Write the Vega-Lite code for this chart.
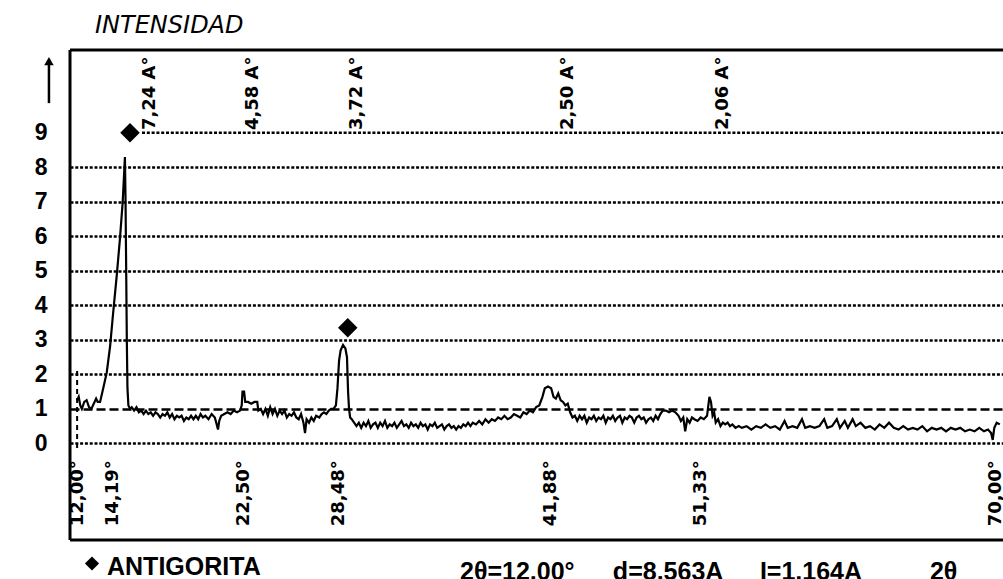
{
  "$schema": "https://vega.github.io/schema/vega-lite/v6.json",
  "width": 933,
  "height": 490,
  "autosize": {"type": "none"},
  "padding": {"left": 70, "top": 50, "right": 0, "bottom": 39},
  "background": "white",
  "config": {"view": {"stroke": null}},
  "datasets": {
    "trace": [
      {"t": 12.0, "i": 1.25}, {"t": 12.1, "i": 1.35}, {"t": 12.2, "i": 1.1}, {"t": 12.3, "i": 1.0}, {"t": 12.45, "i": 1.2}, {"t": 12.6, "i": 1.25}, {"t": 12.75, "i": 1.05}, {"t": 12.9, "i": 1.0}, {"t": 13.05, "i": 1.15}, {"t": 13.2, "i": 1.3}, {"t": 13.3, "i": 1.2}, {"t": 13.45, "i": 1.2},
      {"t": 13.65, "i": 1.6}, {"t": 13.87, "i": 2.05}, {"t": 14.08, "i": 2.8}, {"t": 14.28, "i": 3.8}, {"t": 14.5, "i": 4.85}, {"t": 14.7, "i": 5.9}, {"t": 14.88, "i": 7.0}, {"t": 15.02, "i": 8.3}, {"t": 15.06, "i": 7.0}, {"t": 15.1, "i": 5.0}, {"t": 15.14, "i": 3.0}, {"t": 15.18, "i": 1.6}, {"t": 15.24, "i": 1.1}, {"t": 15.35, "i": 1.0},
      {"t": 15.45, "i": 1.05}, {"t": 15.6, "i": 0.95}, {"t": 15.75, "i": 1.05}, {"t": 15.9, "i": 0.9}, {"t": 16.05, "i": 0.95}, {"t": 16.2, "i": 0.85}, {"t": 16.35, "i": 0.95}, {"t": 16.5, "i": 0.85}, {"t": 16.65, "i": 0.9}, {"t": 16.8, "i": 0.8}, {"t": 16.95, "i": 0.9}, {"t": 17.1, "i": 0.85}, {"t": 17.25, "i": 0.75}, {"t": 17.4, "i": 0.85}, {"t": 17.55, "i": 0.8}, {"t": 17.7, "i": 0.9}, {"t": 17.85, "i": 0.75}, {"t": 18.0, "i": 0.85}, {"t": 18.15, "i": 0.7}, {"t": 18.3, "i": 0.8}, {"t": 18.45, "i": 0.75}, {"t": 18.6, "i": 0.8}, {"t": 18.75, "i": 0.65}, {"t": 18.9, "i": 0.75}, {"t": 19.05, "i": 0.7}, {"t": 19.2, "i": 0.8}, {"t": 19.35, "i": 0.7}, {"t": 19.5, "i": 0.8}, {"t": 19.65, "i": 0.7}, {"t": 19.8, "i": 0.85}, {"t": 19.95, "i": 0.75}, {"t": 20.1, "i": 0.8}, {"t": 20.3, "i": 0.7}, {"t": 20.5, "i": 0.85}, {"t": 20.7, "i": 0.75}, {"t": 20.82, "i": 0.55}, {"t": 20.9, "i": 0.4}, {"t": 20.98, "i": 0.65}, {"t": 21.1, "i": 0.8}, {"t": 21.3, "i": 0.85}, {"t": 21.5, "i": 0.9}, {"t": 21.7, "i": 0.85}, {"t": 21.9, "i": 0.95}, {"t": 22.1, "i": 0.9}, {"t": 22.3, "i": 0.95}, {"t": 22.4, "i": 1.1},
      {"t": 22.45, "i": 1.5}, {"t": 22.55, "i": 1.5}, {"t": 22.62, "i": 1.2}, {"t": 22.8, "i": 1.2}, {"t": 23.0, "i": 1.15}, {"t": 23.2, "i": 1.2}, {"t": 23.38, "i": 1.2}, {"t": 23.45, "i": 0.95}, {"t": 23.6, "i": 1.0}, {"t": 23.75, "i": 0.85}, {"t": 23.9, "i": 1.0}, {"t": 24.05, "i": 0.8}, {"t": 24.2, "i": 1.05}, {"t": 24.35, "i": 0.85}, {"t": 24.5, "i": 1.0}, {"t": 24.65, "i": 0.8}, {"t": 24.8, "i": 0.95}, {"t": 24.95, "i": 0.85}, {"t": 25.1, "i": 0.95}, {"t": 25.25, "i": 0.75}, {"t": 25.4, "i": 0.85}, {"t": 25.55, "i": 0.8}, {"t": 25.7, "i": 0.9}, {"t": 25.85, "i": 0.75}, {"t": 26.0, "i": 0.7}, {"t": 26.15, "i": 0.85}, {"t": 26.3, "i": 0.6}, {"t": 26.4, "i": 0.3}, {"t": 26.5, "i": 0.7}, {"t": 26.65, "i": 0.6}, {"t": 26.8, "i": 0.75}, {"t": 26.95, "i": 0.65}, {"t": 27.1, "i": 0.8}, {"t": 27.3, "i": 0.75}, {"t": 27.45, "i": 0.85}, {"t": 27.6, "i": 0.9}, {"t": 27.75, "i": 0.85}, {"t": 27.9, "i": 0.95}, {"t": 28.05, "i": 1.0}, {"t": 28.2, "i": 1.0},
      {"t": 28.35, "i": 1.1}, {"t": 28.45, "i": 1.6}, {"t": 28.55, "i": 2.4}, {"t": 28.65, "i": 2.7}, {"t": 28.8, "i": 2.85}, {"t": 28.95, "i": 2.75}, {"t": 29.05, "i": 2.5}, {"t": 29.12, "i": 1.5}, {"t": 29.18, "i": 1.0}, {"t": 29.25, "i": 0.75}, {"t": 29.35, "i": 0.7},
      {"t": 29.5, "i": 0.6}, {"t": 29.65, "i": 0.5}, {"t": 29.8, "i": 0.6}, {"t": 29.95, "i": 0.45}, {"t": 30.1, "i": 0.6}, {"t": 30.25, "i": 0.5}, {"t": 30.4, "i": 0.65}, {"t": 30.55, "i": 0.45}, {"t": 30.7, "i": 0.55}, {"t": 30.85, "i": 0.6}, {"t": 31.0, "i": 0.45}, {"t": 31.15, "i": 0.6}, {"t": 31.3, "i": 0.5}, {"t": 31.45, "i": 0.65}, {"t": 31.6, "i": 0.45}, {"t": 31.75, "i": 0.55}, {"t": 31.9, "i": 0.5}, {"t": 32.05, "i": 0.6}, {"t": 32.2, "i": 0.45}, {"t": 32.35, "i": 0.55}, {"t": 32.5, "i": 0.65}, {"t": 32.65, "i": 0.5}, {"t": 32.8, "i": 0.55}, {"t": 32.95, "i": 0.45}, {"t": 33.1, "i": 0.6}, {"t": 33.25, "i": 0.5}, {"t": 33.4, "i": 0.55}, {"t": 33.55, "i": 0.45}, {"t": 33.7, "i": 0.6}, {"t": 33.85, "i": 0.5}, {"t": 34.0, "i": 0.55}, {"t": 34.15, "i": 0.4}, {"t": 34.3, "i": 0.55}, {"t": 34.45, "i": 0.5}, {"t": 34.6, "i": 0.6}, {"t": 34.75, "i": 0.45}, {"t": 34.9, "i": 0.5}, {"t": 35.05, "i": 0.55}, {"t": 35.2, "i": 0.4}, {"t": 35.35, "i": 0.5}, {"t": 35.5, "i": 0.55}, {"t": 35.65, "i": 0.45}, {"t": 35.8, "i": 0.5}, {"t": 35.95, "i": 0.4}, {"t": 36.1, "i": 0.5}, {"t": 36.25, "i": 0.45}, {"t": 36.4, "i": 0.55}, {"t": 36.55, "i": 0.5}, {"t": 36.7, "i": 0.6}, {"t": 36.85, "i": 0.5}, {"t": 37.0, "i": 0.6}, {"t": 37.2, "i": 0.55}, {"t": 37.4, "i": 0.65}, {"t": 37.6, "i": 0.55}, {"t": 37.8, "i": 0.7}, {"t": 38.0, "i": 0.6}, {"t": 38.2, "i": 0.7}, {"t": 38.4, "i": 0.65}, {"t": 38.6, "i": 0.75}, {"t": 38.8, "i": 0.7}, {"t": 39.0, "i": 0.8}, {"t": 39.2, "i": 0.7}, {"t": 39.4, "i": 0.75}, {"t": 39.6, "i": 0.85}, {"t": 39.8, "i": 0.8}, {"t": 40.0, "i": 0.75}, {"t": 40.2, "i": 0.9}, {"t": 40.4, "i": 0.85}, {"t": 40.6, "i": 0.95}, {"t": 40.8, "i": 0.9}, {"t": 41.0, "i": 1.05}, {"t": 41.2, "i": 1.1},
      {"t": 41.4, "i": 1.35}, {"t": 41.55, "i": 1.6}, {"t": 41.75, "i": 1.65}, {"t": 41.95, "i": 1.6}, {"t": 42.1, "i": 1.35}, {"t": 42.25, "i": 1.3}, {"t": 42.4, "i": 1.45}, {"t": 42.55, "i": 1.25}, {"t": 42.7, "i": 1.2}, {"t": 42.85, "i": 1.1}, {"t": 43.0, "i": 1.15}, {"t": 43.15, "i": 0.9}, {"t": 43.3, "i": 0.75},
      {"t": 43.45, "i": 0.8}, {"t": 43.6, "i": 0.65}, {"t": 43.75, "i": 0.8}, {"t": 43.9, "i": 0.7}, {"t": 44.05, "i": 0.8}, {"t": 44.2, "i": 0.6}, {"t": 44.35, "i": 0.75}, {"t": 44.5, "i": 0.7}, {"t": 44.65, "i": 0.8}, {"t": 44.8, "i": 0.65}, {"t": 44.95, "i": 0.75}, {"t": 45.1, "i": 0.7}, {"t": 45.25, "i": 0.8}, {"t": 45.4, "i": 0.6}, {"t": 45.55, "i": 0.75}, {"t": 45.7, "i": 0.7}, {"t": 45.85, "i": 0.8}, {"t": 46.0, "i": 0.65}, {"t": 46.15, "i": 0.75}, {"t": 46.3, "i": 0.8}, {"t": 46.45, "i": 0.6}, {"t": 46.6, "i": 0.75}, {"t": 46.75, "i": 0.7}, {"t": 46.9, "i": 0.8}, {"t": 47.05, "i": 0.75}, {"t": 47.2, "i": 0.6}, {"t": 47.35, "i": 0.75}, {"t": 47.5, "i": 0.8}, {"t": 47.65, "i": 0.7}, {"t": 47.8, "i": 0.75}, {"t": 47.95, "i": 0.6}, {"t": 48.1, "i": 0.7}, {"t": 48.25, "i": 0.75}, {"t": 48.4, "i": 0.65}, {"t": 48.55, "i": 0.8}, {"t": 48.7, "i": 0.7}, {"t": 48.85, "i": 0.85}, {"t": 49.0, "i": 0.95}, {"t": 49.2, "i": 0.95}, {"t": 49.4, "i": 0.9}, {"t": 49.6, "i": 0.95}, {"t": 49.8, "i": 0.9}, {"t": 50.0, "i": 0.8}, {"t": 50.15, "i": 0.65}, {"t": 50.3, "i": 0.75}, {"t": 50.42, "i": 0.35}, {"t": 50.55, "i": 0.7}, {"t": 50.7, "i": 0.6}, {"t": 50.85, "i": 0.75}, {"t": 51.0, "i": 0.7}, {"t": 51.2, "i": 0.65}, {"t": 51.4, "i": 0.75}, {"t": 51.6, "i": 0.7}, {"t": 51.8, "i": 0.8},
      {"t": 51.95, "i": 1.35}, {"t": 52.05, "i": 1.2}, {"t": 52.15, "i": 0.8}, {"t": 52.25, "i": 0.9}, {"t": 52.35, "i": 0.6}, {"t": 52.5, "i": 0.7}, {"t": 52.65, "i": 0.5}, {"t": 52.8, "i": 0.6}, {"t": 52.95, "i": 0.55}, {"t": 53.1, "i": 0.6}, {"t": 53.25, "i": 0.5}, {"t": 53.4, "i": 0.55}, {"t": 53.6, "i": 0.45}, {"t": 53.8, "i": 0.5}, {"t": 54.0, "i": 0.45},
      {"t": 54.3, "i": 0.5}, {"t": 54.6, "i": 0.4}, {"t": 54.9, "i": 0.5}, {"t": 55.2, "i": 0.45}, {"t": 55.5, "i": 0.55}, {"t": 55.8, "i": 0.45}, {"t": 56.1, "i": 0.5}, {"t": 56.4, "i": 0.4}, {"t": 56.7, "i": 0.65}, {"t": 56.9, "i": 0.45}, {"t": 57.2, "i": 0.5}, {"t": 57.5, "i": 0.45}, {"t": 57.8, "i": 0.7}, {"t": 58.0, "i": 0.45}, {"t": 58.3, "i": 0.5}, {"t": 58.6, "i": 0.45}, {"t": 58.9, "i": 0.5}, {"t": 59.2, "i": 0.7}, {"t": 59.4, "i": 0.45}, {"t": 59.7, "i": 0.5}, {"t": 60.0, "i": 0.7}, {"t": 60.2, "i": 0.45}, {"t": 60.5, "i": 0.65}, {"t": 60.7, "i": 0.45}, {"t": 61.0, "i": 0.7}, {"t": 61.2, "i": 0.5}, {"t": 61.5, "i": 0.6}, {"t": 61.8, "i": 0.45}, {"t": 62.1, "i": 0.5}, {"t": 62.4, "i": 0.4}, {"t": 62.7, "i": 0.55}, {"t": 63.0, "i": 0.45}, {"t": 63.3, "i": 0.6}, {"t": 63.6, "i": 0.45}, {"t": 63.9, "i": 0.4}, {"t": 64.2, "i": 0.5}, {"t": 64.5, "i": 0.4}, {"t": 64.8, "i": 0.45}, {"t": 65.1, "i": 0.4}, {"t": 65.4, "i": 0.5}, {"t": 65.7, "i": 0.35}, {"t": 66.0, "i": 0.45}, {"t": 66.3, "i": 0.4}, {"t": 66.6, "i": 0.45}, {"t": 66.9, "i": 0.35}, {"t": 67.2, "i": 0.45}, {"t": 67.5, "i": 0.4}, {"t": 67.8, "i": 0.45}, {"t": 68.1, "i": 0.35}, {"t": 68.4, "i": 0.4}, {"t": 68.7, "i": 0.35}, {"t": 69.0, "i": 0.45}, {"t": 69.3, "i": 0.35}, {"t": 69.55, "i": 0.4}, {"t": 69.75, "i": 0.3}, {"t": 69.85, "i": 0.1}, {"t": 69.95, "i": 0.45}, {"t": 70.1, "i": 0.6}, {"t": 70.3, "i": 0.55}
    ],
    "topline": [
      {"level": 9, "from": 16.1, "to": 70.5}
    ],
    "marks": [
      {"t": 15.34, "i": 9.0},
      {"t": 29.1, "i": 3.35}
    ],
    "dlabels": [
      {"pos": 16.6, "txt": "7,24 A°"},
      {"pos": 23.1, "txt": "4,58 A°"},
      {"pos": 29.68, "txt": "3,72 A°"},
      {"pos": 43.0, "txt": "2,50 A°"},
      {"pos": 52.8, "txt": "2,06 A°"}
    ],
    "tlabels": [
      {"t": 12.0, "txt": "12,00°"},
      {"t": 14.19, "txt": "14,19°"},
      {"t": 22.5, "txt": "22,50°"},
      {"t": 28.48, "txt": "28,48°"},
      {"t": 41.88, "txt": "41,88°"},
      {"t": 51.33, "txt": "51,33°"},
      {"t": 70.0, "txt": "70,00°"}
    ],
    "legend": [{"t": 12.94, "txt": "ANTIGORITA"}],
    "heading": [{"t": 13.13, "txt": "INTENSIDAD"}],
    "footer": [
      {"pos": 36.19, "txt": "2θ=12,00°"},
      {"pos": 45.85, "txt": "d=8.563A"},
      {"pos": 55.14, "txt": "I=1,164A"},
      {"pos": 65.88, "txt": "2θ"}
    ],
    "one": [{}]
  },
  "layer": [
    {
      "data": {"name": "topline"},
      "mark": {"type": "rule", "color": "black", "strokeWidth": 2.6, "strokeDash": [3, 1.8], "opacity": 1},
      "encoding": {
        "x": {"field": "from", "type": "quantitative", "scale": {"domain": [11.55, 70.5], "zero": false, "nice": false}, "axis": null},
        "x2": {"field": "to"},
        "y": {"field": "level", "type": "quantitative", "scale": {"domain": [-2.8, 11.4], "zero": false, "nice": false},
          "axis": {"values": [0, 1, 2, 3, 4, 5, 6, 7, 8, 9], "ticks": false, "domain": false, "labelFont": "Liberation Sans", "labelFontSize": 23, "labelFontWeight": "bold", "labelColor": "black", "labelPadding": 23, "title": null,
            "grid": true, "gridColor": "black", "gridWidth": 2.6,
            "gridOpacity": {"condition": {"test": "datum.value === 9", "value": 0}, "value": 1},
            "gridDash": {"condition": {"test": "datum.value === 1", "value": [9, 4]}, "value": [3, 1.8]}}}
      }
    },
    {
      "data": {"name": "one"},
      "mark": {"type": "rule", "color": "black", "strokeWidth": 2, "strokeDash": [5, 4]},
      "encoding": {
        "x": {"datum": 12.0, "type": "quantitative"},
        "y": {"datum": 2.1, "type": "quantitative"},
        "y2": {"datum": -0.15}
      }
    },
    {
      "data": {"name": "trace"},
      "mark": {"type": "line", "color": "black", "strokeWidth": 2.2, "clip": true},
      "encoding": {
        "x": {"field": "t", "type": "quantitative"},
        "y": {"field": "i", "type": "quantitative"}
      }
    },
    {
      "data": {"name": "one"},
      "mark": {"type": "rule", "color": "black", "strokeWidth": 3},
      "encoding": {
        "y": {"datum": 11.4, "type": "quantitative"}
      }
    },
    {
      "data": {"name": "one"},
      "mark": {"type": "rule", "color": "black", "strokeWidth": 3},
      "encoding": {
        "y": {"datum": -2.8, "type": "quantitative"}
      }
    },
    {
      "data": {"name": "one"},
      "mark": {"type": "rule", "color": "black", "strokeWidth": 3},
      "encoding": {
        "x": {"datum": 11.55, "type": "quantitative"}
      }
    },
    {
      "data": {"name": "marks"},
      "mark": {"type": "point", "shape": "diamond", "filled": true, "color": "black", "size": 380, "opacity": 1},
      "encoding": {
        "x": {"field": "t", "type": "quantitative"},
        "y": {"field": "i", "type": "quantitative"}
      }
    },
    {
      "data": {"name": "dlabels"},
      "mark": {"type": "text", "angle": 270, "align": "left", "baseline": "middle", "font": "DejaVu Sans", "fontWeight": "bold", "fontSize": 18, "color": "black"},
      "encoding": {
        "x": {"field": "pos", "type": "quantitative"},
        "y": {"datum": 9.08, "type": "quantitative"},
        "text": {"field": "txt"}
      }
    },
    {
      "data": {"name": "tlabels"},
      "mark": {"type": "text", "angle": 270, "align": "left", "baseline": "middle", "dy": 1, "font": "DejaVu Sans", "fontWeight": "bold", "fontSize": 18, "color": "black"},
      "encoding": {
        "x": {"field": "t", "type": "quantitative"},
        "y": {"datum": -2.4, "type": "quantitative"},
        "text": {"field": "txt"}
      }
    },
    {
      "data": {"name": "legend"},
      "mark": {"type": "point", "shape": "diamond", "filled": true, "color": "black", "size": 200, "opacity": 1},
      "encoding": {
        "x": {"field": "t", "type": "quantitative"},
        "y": {"datum": -3.48, "type": "quantitative"}
      }
    },
    {
      "data": {"name": "legend"},
      "mark": {"type": "text", "align": "left", "baseline": "alphabetic", "dx": 15, "font": "Liberation Sans", "fontWeight": "bold", "fontSize": 25, "color": "black"},
      "encoding": {
        "x": {"field": "t", "type": "quantitative"},
        "y": {"datum": -3.8, "type": "quantitative"},
        "text": {"field": "txt"}
      }
    },
    {
      "data": {"name": "heading"},
      "mark": {"type": "text", "align": "left", "baseline": "alphabetic", "font": "DejaVu Sans", "fontStyle": "italic", "fontSize": 24, "color": "black"},
      "encoding": {
        "x": {"field": "t", "type": "quantitative"},
        "y": {"datum": 11.89, "type": "quantitative"},
        "text": {"field": "txt"}
      }
    },
    {
      "data": {"name": "footer"},
      "mark": {"type": "text", "align": "left", "baseline": "alphabetic", "font": "Liberation Sans", "fontWeight": "bold", "fontSize": 25, "color": "black"},
      "encoding": {
        "x": {"field": "pos", "type": "quantitative"},
        "y": {"datum": -3.96, "type": "quantitative"},
        "text": {"field": "txt"}
      }
    },
    {
      "data": {"name": "one"},
      "mark": {"type": "rule", "color": "black", "strokeWidth": 2.5},
      "encoding": {
        "x": {"datum": 10.22, "type": "quantitative"},
        "y": {"datum": 9.86, "type": "quantitative"},
        "y2": {"datum": 11.0}
      }
    },
    {
      "data": {"name": "one"},
      "mark": {"type": "point", "shape": "triangle-up", "filled": true, "color": "black", "size": 90, "opacity": 1},
      "encoding": {
        "x": {"datum": 10.22, "type": "quantitative"},
        "y": {"datum": 11.08, "type": "quantitative"}
      }
    }
  ]
}
